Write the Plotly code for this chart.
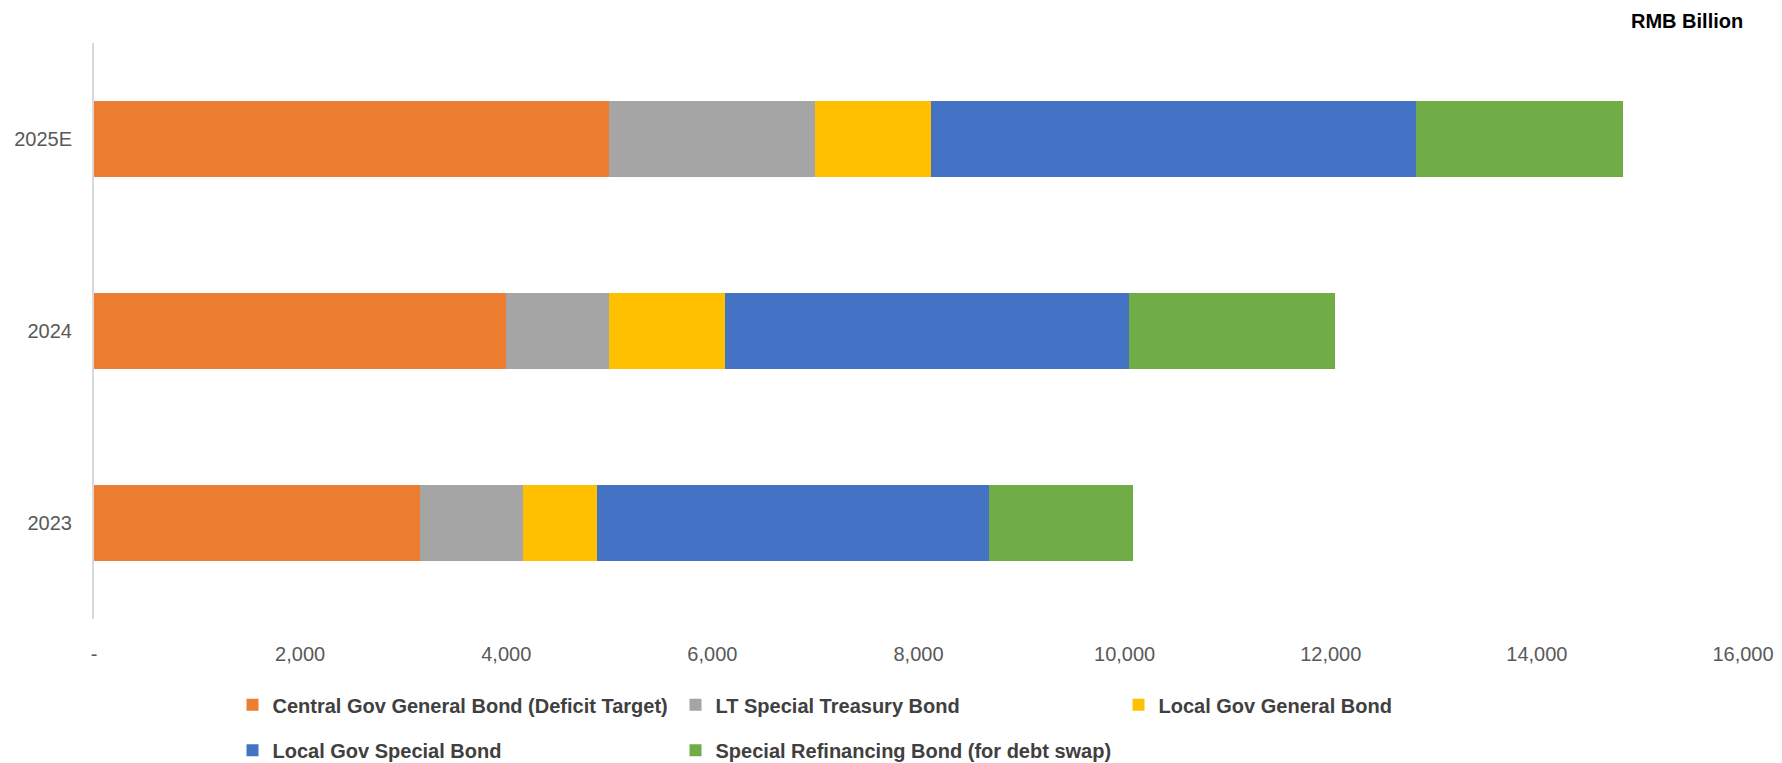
import plotly.graph_objects as go

categories = ["2023", "2024", "2025E"]
series_names = [
    "Central Gov General Bond (Deficit Target)",
    "LT Special Treasury Bond",
    "Local Gov General Bond",
    "Local Gov Special Bond",
    "Special Refinancing Bond (for debt swap)",
]
central_gov_general = [3160, 4000, 5000]
lt_special_treasury = [1000, 1000, 2000]
local_gov_general = [720, 1120, 1120]
local_gov_special = [3800, 3920, 4710]
special_refinancing = [1400, 2000, 2010]
x_tickvals = [0, 2000, 4000, 6000, 8000, 10000, 12000, 14000, 16000]
x_ticktext = ["-", "2,000", "4,000", "6,000", "8,000", "10,000", "12,000", "14,000", "16,000"]

colors = ["#ED7D31", "#A5A5A5", "#FFC000", "#4472C4", "#70AD47"]
series_values = [central_gov_general, lt_special_treasury, local_gov_general,
                 local_gov_special, special_refinancing]
legend_rows = ["legend", "legend", "legend", "legend2", "legend2"]

fig = go.Figure()
for name, vals, col, lg in zip(series_names, series_values, colors, legend_rows):
    fig.add_trace(go.Bar(
        y=categories, x=vals, name=name, orientation="h",
        marker=dict(color=col, line=dict(width=0)), legend=lg,
    ))

LFONT = dict(family="Liberation Sans, Arial, sans-serif", size=20, color="#404040", weight="bold")
common_legend = dict(orientation="h", xanchor="left", yanchor="top",
                     entrywidth=398, entrywidthmode="pixels", itemwidth=30,
                     traceorder="normal", font=LFONT, bgcolor="rgba(0,0,0,0)")

fig.update_layout(
    barmode="stack",
    bargap=0.6,
    width=1782, height=763,
    margin=dict(l=94, r=39, t=43, b=144, autoexpand=False),
    paper_bgcolor="white", plot_bgcolor="white",
    font=dict(family="Liberation Sans, Arial, sans-serif", color="#595959"),
    xaxis=dict(range=[0, 16000], tickvals=x_tickvals, ticktext=x_ticktext,
               showgrid=False, zeroline=False, showline=False,
               tickfont=dict(size=20, color="#595959"), ticklabelstandoff=21),
    yaxis=dict(type="category", categoryorder="array", categoryarray=categories,
               showgrid=False, zeroline=False, showline=True,
               linecolor="#D9D9D9", linewidth=2, ticks="",
               tickfont=dict(size=20, color="#595959"), ticklabelstandoff=16),
    legend=dict(x=0.084, y=-0.115, **common_legend),
    legend2=dict(x=0.084, y=-0.194, **common_legend),
    showlegend=True,
)
fig.add_annotation(text="<b>RMB Billion</b>", xref="paper", yref="paper",
                   x=1.0012, y=1.038, xanchor="right", yanchor="middle", showarrow=False,
                   font=dict(family="Liberation Sans, Arial, sans-serif", size=20, color="#000000"))

fig.write_html("out.html")
